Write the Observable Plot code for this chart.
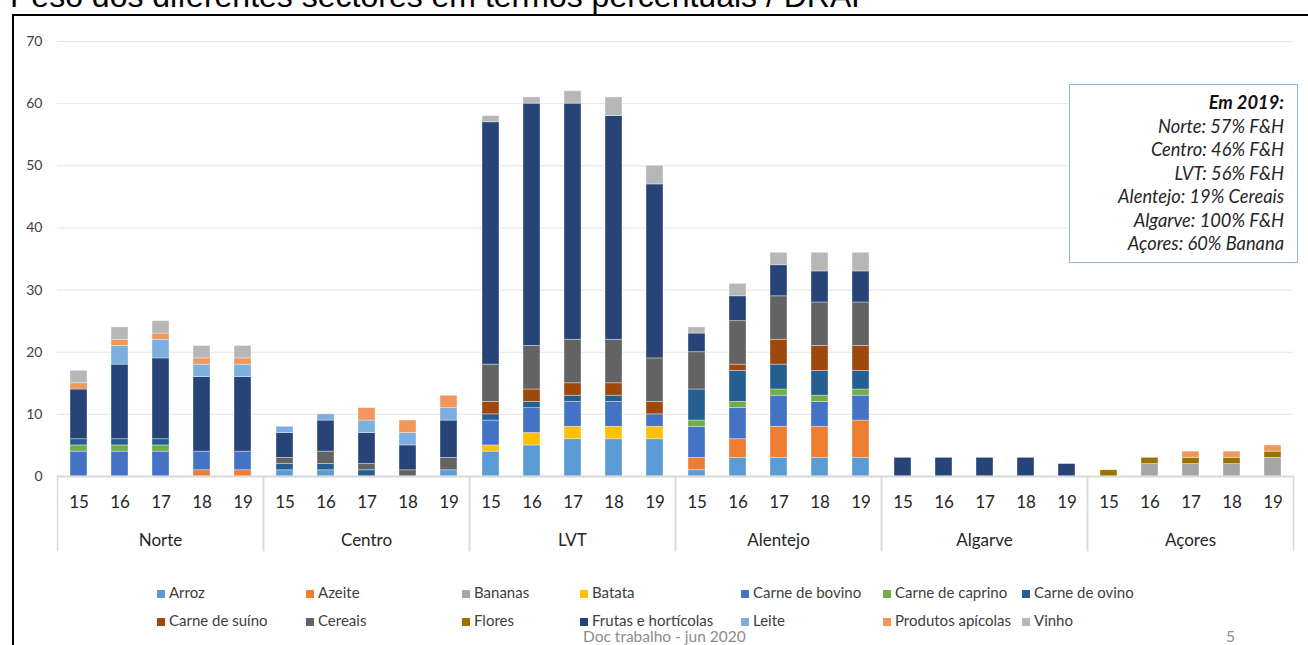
<!DOCTYPE html>
<html><head><meta charset="utf-8">
<script src="https://cdn.jsdelivr.net/npm/d3@7"></script>
<script src="https://cdn.jsdelivr.net/npm/@observablehq/plot@0.6"></script>
<style>
html,body{margin:0;padding:0;background:#fff;}
#page{position:relative;width:1308px;height:645px;overflow:hidden;font-family:Lato,"Open Sans",sans-serif;}
#title{position:absolute;left:10px;top:-20px;font:32px/32px "Liberation Sans",Arial,sans-serif;color:#000;white-space:nowrap;}
#border{position:absolute;left:12px;top:14px;width:1320px;height:660px;border-top:2px solid #000;border-left:2px solid #000;}
#chart{position:absolute;left:0;top:0;}
#note{position:absolute;left:1069px;top:84px;width:214px;height:171px;border:1px solid #8eb4e3;padding:6px 13px 0 0;text-align:right;font-style:italic;font-size:18.3px;line-height:23.5px;color:#262626;background:#fff;}
#note b{font-weight:700;color:#111;}
.lg{position:absolute;font-size:15px;color:#404040;white-space:nowrap;line-height:16px;}
.lg i{display:inline-block;width:8px;height:8px;margin-right:4px;vertical-align:0px;}
#foot{position:absolute;left:583px;top:627px;font-size:15.5px;color:#8c8c8c;}
#pg{position:absolute;left:1226px;top:627px;font-size:15.5px;color:#8c8c8c;}
</style></head>
<body>
<div id="page">
  <div id="title">Peso dos diferentes sectores em termos percentuais / DRAP</div>
  <div id="border"></div>
  <div id="chart"></div>
  <div id="note"><b>Em 2019:</b><br>Norte: 57% F&amp;H<br>Centro: 46% F&amp;H<br>LVT: 56% F&amp;H<br>Alentejo: 19% Cereais<br>Algarve: 100% F&amp;H<br>Açores: 60% Banana</div>
  <div id="legend"></div>
  <div id="foot">Doc trabalho - jun 2020</div>
  <div id="pg">5</div>
</div>
<script>
const regions = ["Norte", "Centro", "LVT", "Alentejo", "Algarve", "Açores"];
const years = ["15", "16", "17", "18", "19"];
const yTicks = [0, 10, 20, 30, 40, 50, 60, 70];
const sectors = ["Arroz", "Azeite", "Bananas", "Batata", "Carne de bovino", "Carne de caprino", "Carne de ovino",
  "Carne de suíno", "Cereais", "Flores", "Frutas e hortícolas", "Leite", "Produtos apícolas", "Vinho"];
const colors = ["#5B9BD5", "#ED7D31", "#A5A5A5", "#FFC000", "#4472C4", "#70AD47", "#255E91",
  "#9E480E", "#636363", "#997300", "#264478", "#7CAFDD", "#F1975A", "#B7B7B7"];

// values per region, per sector, for years 15..19
const norte = {
  "Azeite": [0, 0, 0, 1, 1],
  "Carne de bovino": [4, 4, 4, 3, 3],
  "Carne de caprino": [1, 1, 1, 0, 0],
  "Carne de ovino": [1, 1, 1, 0, 0],
  "Frutas e hortícolas": [8, 12, 13, 12, 12],
  "Leite": [0, 3, 3, 2, 2],
  "Produtos apícolas": [1, 1, 1, 1, 1],
  "Vinho": [2, 2, 2, 2, 2]
};
const centro = {
  "Arroz": [1, 1, 0, 0, 1],
  "Carne de ovino": [1, 1, 1, 0, 0],
  "Cereais": [1, 2, 1, 1, 2],
  "Frutas e hortícolas": [4, 5, 5, 4, 6],
  "Leite": [1, 1, 2, 2, 2],
  "Produtos apícolas": [0, 0, 2, 2, 2]
};
const lvt = {
  "Arroz": [4, 5, 6, 6, 6],
  "Batata": [1, 2, 2, 2, 2],
  "Carne de bovino": [4, 4, 4, 4, 2],
  "Carne de ovino": [1, 1, 1, 1, 0],
  "Carne de suíno": [2, 2, 2, 2, 2],
  "Cereais": [6, 7, 7, 7, 7],
  "Frutas e hortícolas": [39, 39, 38, 36, 28],
  "Vinho": [1, 1, 2, 3, 3]
};
const alentejo = {
  "Arroz": [1, 3, 3, 3, 3],
  "Azeite": [2, 3, 5, 5, 6],
  "Carne de bovino": [5, 5, 5, 4, 4],
  "Carne de caprino": [1, 1, 1, 1, 1],
  "Carne de ovino": [5, 5, 4, 4, 3],
  "Carne de suíno": [0, 1, 4, 4, 4],
  "Cereais": [6, 7, 7, 7, 7],
  "Frutas e hortícolas": [3, 4, 5, 5, 5],
  "Vinho": [1, 2, 2, 3, 3]
};
const algarve = {
  "Frutas e hortícolas": [3, 3, 3, 3, 2]
};
const acores = {
  "Bananas": [0, 2, 2, 2, 3],
  "Flores": [1, 1, 1, 1, 1],
  "Produtos apícolas": [0, 0, 1, 1, 1]
};
const regionValues = [norte, centro, lvt, alentejo, algarve, acores];

const rows = [];
regions.forEach((region, r) => {
  const vals = regionValues[r];
  sectors.forEach(sector => {
    if (!vals[sector]) return;
    years.forEach((year, i) => {
      if (vals[sector][i] > 0) rows.push({region, year, sector, value: vals[sector][i]});
    });
  });
});

const chart = Plot.plot({
  width: 1308, height: 560,
  marginLeft: 55, marginRight: 13, marginTop: 41, marginBottom: 84,
  style: {fontFamily: "Lato, 'Open Sans', sans-serif", fontSize: "14px", background: "transparent", overflow: "visible", color: "#404040"},
  fx: {domain: regions, padding: 0, label: null},
  x: {domain: years, paddingInner: 0.59, paddingOuter: 0.295, label: null},
  y: {domain: [0, 70], label: null},
  color: {domain: sectors, range: colors},
  marks: [
    Plot.gridY(yTicks, {stroke: "#e6e6e6", strokeOpacity: 1}),
    Plot.barY(rows, {fx: "region", x: "year", y: "value", fill: "sector", order: sectors,
      stroke: "#ffffff", strokeOpacity: 0.45, strokeWidth: 0.8}),
    Plot.ruleY([0], {stroke: "#d9d9d9", strokeWidth: 2}),
    Plot.frame({anchor: "left", stroke: "#d9d9d9", strokeWidth: 1.5, insetTop: 435, insetBottom: -74}),
    Plot.frame({anchor: "right", stroke: "#d9d9d9", strokeWidth: 1.5, insetTop: 435, insetBottom: -74}),
    Plot.axisY(yTicks, {tickSize: 0, tickPadding: 15, fontSize: 14, fill: "#404040", label: null}),
    Plot.axisX({tickSize: 0, tickPadding: 19, fontSize: 17, fill: "#262626", label: null}),
    Plot.axisFx({anchor: "bottom", tickSize: 0, tickPadding: 57, fontSize: 17, fill: "#262626", label: null})
  ]
});
document.getElementById("chart").appendChild(chart);

// legend (two rows, seven aligned columns, as in the reference)
const colX = [157, 306, 462, 580, 741, 883, 1022];
const rowY = [584, 612];
const legend = document.getElementById("legend");
sectors.forEach((s, i) => {
  const d = document.createElement("div");
  d.className = "lg";
  d.style.left = colX[i % 7] + "px";
  d.style.top = rowY[Math.floor(i / 7)] + "px";
  d.innerHTML = `<i style="background:${colors[i]}"></i>${s}`;
  legend.appendChild(d);
});
</script>
</body></html>
